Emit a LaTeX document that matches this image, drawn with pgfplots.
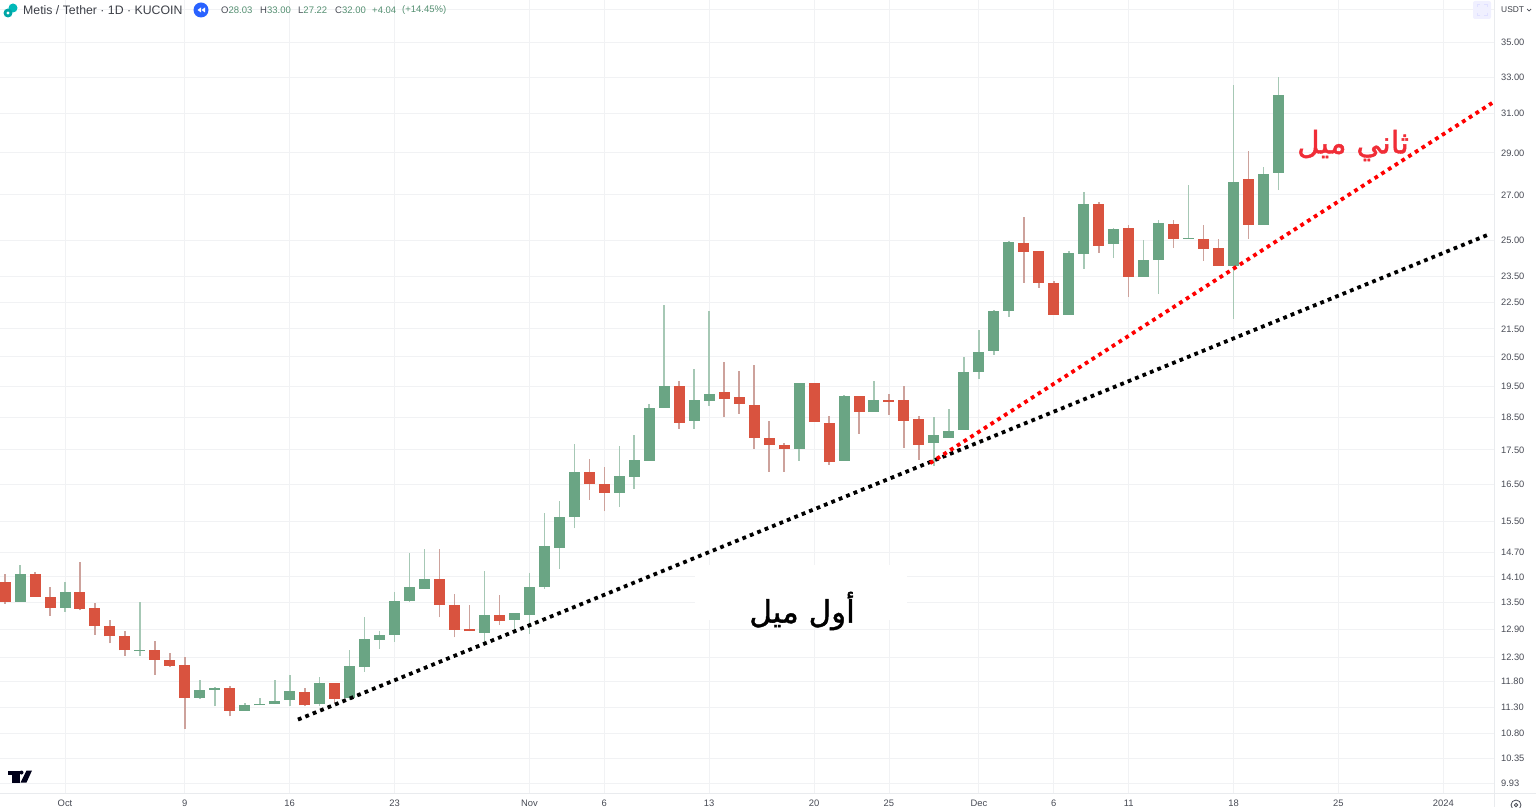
\documentclass[border=0pt]{standalone}
\usepackage{fontspec}
\usepackage{pgfplots}
\usepackage{pgfplotstable}
\pgfplotsset{compat=1.18}
\setmainfont{Liberation Sans}
\newfontfamily\arabicfont[Script=Arabic,AutoFakeBold=1.4]{DejaVu Sans}
\TeXXeTstate=1
\definecolor{upc}{HTML}{6AA584}
\definecolor{dnc}{HTML}{D9533F}
\definecolor{upw}{HTML}{A6C8B5}
\definecolor{dnw}{HTML}{CDA29C}
\definecolor{gridc}{HTML}{F1F2F4}
\definecolor{axc}{HTML}{E9EBEE}
\definecolor{txt}{HTML}{474A54}
\definecolor{valc}{HTML}{548F71}
\definecolor{tvblue}{HTML}{2962FF}
\definecolor{redlabel}{HTML}{F02D37}
% day (0 = 1 Oct), low, body bottom, body top, high
\pgfplotstableread{
d lo bot top hi
-3 13.51 13.51 14.17 14.39
0 13.29 13.38 13.75 13.98
5 12.33 12.44 12.46 13.51
9 11.46 11.48 11.64 11.84
10 11.31 11.64 11.68 11.70
12 11.23 11.23 11.33 11.38
13 11.33 11.33 11.36 11.48
14 11.35 11.35 11.42 11.84
15 11.31 11.44 11.62 11.94
17 11.31 11.36 11.78 11.90
19 11.44 11.48 12.12 12.46
20 12.00 12.10 12.69 13.16
21 12.48 12.67 12.78 12.87
22 12.63 12.78 13.54 13.75
23 13.51 13.54 13.85 14.69
24 13.82 13.82 14.05 14.79
28 12.63 12.82 13.22 14.25
30 12.85 13.11 13.25 13.27
31 12.80 13.22 13.87 14.20
32 13.82 13.87 14.87 15.73
33 14.29 14.82 15.62 16.03
34 15.31 15.62 16.86 17.68
37 15.89 16.27 16.74 17.62
38 16.38 16.72 17.21 17.95
39 17.18 17.18 18.80 18.93
40 18.80 18.80 19.51 22.40
42 18.14 18.39 19.06 20.09
43 18.87 19.03 19.25 22.17
49 17.18 17.53 19.62 19.62
52 17.18 17.18 19.19 19.22
54 18.68 18.68 19.06 19.69
58 17.03 17.71 17.95 18.51
59 17.86 17.86 18.08 18.77
60 18.11 18.11 19.98 20.50
61 19.75 19.98 20.68 21.46
62 20.58 20.72 22.17 22.21
63 21.94 22.17 24.93 24.97
67 22.02 22.02 24.46 24.55
68 23.81 24.42 26.59 27.14
70 24.25 24.84 25.48 25.53
72 23.49 23.49 24.17 25.01
73 22.82 24.17 25.75 25.88
75 25.05 25.05 25.09 27.47
78 21.87 23.93 27.60 32.55
80 25.66 25.66 27.98 28.31
81 27.22 28.03 32.00 33.00
}\upcandles
\pgfplotstableread{
d lo bot top hi
-4 13.47 13.51 13.98 14.17
-2 13.63 13.63 14.17 14.22
-1 13.20 13.38 13.63 13.85
1 13.32 13.36 13.75 14.45
2 12.78 12.98 13.38 13.49
3 12.59 12.74 12.96 13.11
4 12.33 12.44 12.74 12.85
6 11.94 12.25 12.46 12.65
7 12.10 12.12 12.25 12.38
8 10.89 11.48 12.14 12.31
11 11.12 11.23 11.68 11.72
16 11.31 11.33 11.60 11.68
18 11.38 11.46 11.78 11.78
25 13.16 13.45 14.05 14.79
26 12.72 12.89 13.45 13.70
27 12.85 12.85 12.91 13.45
29 13.00 13.09 13.22 13.68
35 16.08 16.52 16.86 17.24
36 15.76 16.27 16.52 17.01
41 18.14 18.33 19.51 19.69
44 18.51 19.09 19.32 20.33
45 18.61 18.93 19.16 20.02
46 17.53 17.86 18.90 20.22
47 16.86 17.65 17.86 18.39
48 16.86 17.53 17.65 17.71
50 18.36 18.36 19.62 19.62
51 17.06 17.15 18.33 18.55
53 17.99 18.68 19.19 19.19
55 18.58 19.00 19.06 19.25
56 17.56 18.39 19.06 19.51
57 17.21 17.65 18.45 18.55
64 23.25 24.51 24.89 26.01
65 23.05 23.25 24.55 24.55
66 22.02 22.02 23.25 23.33
69 24.46 24.76 26.59 26.68
71 22.70 23.49 25.53 25.66
74 24.67 25.05 25.70 25.88
76 24.13 24.63 25.05 25.66
77 23.93 23.93 24.67 25.05
79 25.05 25.66 27.75 29.10
}\downcandles
\newcommand{\wicks}[2]{\addplot[draw=none,no marks,forget plot,
  error bars/.cd,y dir=plus,y explicit,error mark=none,
  error bar style={line width=1.6pt,draw=#2,solid}]
  table[x=d,y=lo,y error plus expr=\thisrow{hi}-\thisrow{lo}]{#1};}
\newcommand{\bodies}[2]{\addplot[draw=none,no marks,forget plot,
  error bars/.cd,y dir=plus,y explicit,error mark=none,
  error bar style={line width=11pt,draw=#2,solid}]
  table[x=d,y=bot,y error plus expr=\thisrow{top}-\thisrow{bot}]{#1};}
\begin{document}
\begin{tikzpicture}[x=1pt,y=1pt]
\useasboundingbox (0,-14) rectangle (1536,793);
\begin{axis}[
  at={(0,0)},anchor=south west,
  scale only axis,width=1494pt,height=793pt,
  ymode=log,
  xmin=-4.339,xmax=95.39,ymin=9.762,ymax=37.62,
  axis line style={draw=none},
  major tick length=0pt,
  tick style={draw=none},
  grid=major,
  grid style={draw=gridc,line width=0.9pt},
  clip=true,
  xtick={0,8,15,22,31,36,43,50,55,61,66,71,78,85,92},
  xticklabels={Oct,9,16,23,Nov,6,13,20,25,Dec,6,11,18,25,2024},
  xticklabel style={font=\fontsize{9.4}{10}\selectfont,text=txt,anchor=base,yshift=-14pt},
  xtick pos=bottom,
  ytick={9.93,10.35,10.8,11.3,11.8,12.3,12.9,13.5,14.1,14.7,15.5,16.5,17.5,18.5,19.5,20.5,21.5,22.5,23.5,25,27,29,31,33,35,37},
  yticklabels={9.93,10.35,10.80,11.30,11.80,12.30,12.90,13.50,14.10,14.70,15.50,16.50,17.50,18.50,19.50,20.50,21.50,22.50,23.50,25.00,27.00,29.00,31.00,33.00,35.00,},
  ytick pos=right,
  yticklabel pos=right,
  yticklabel style={font=\fontsize{9.3}{10}\selectfont,text=txt,anchor=west,xshift=3.5pt},
]
\wicks{\upcandles}{upw}
\wicks{\downcandles}{dnw}
\bodies{\upcandles}{upc}
\bodies{\downcandles}{dnc}
\addplot[forget plot,black,line width=3.8pt,dash pattern=on 3.8pt off 4.2pt]
  coordinates {(15.55,11.06) (95.13,25.27)};
\addplot[forget plot,red,line width=3.8pt,dash pattern=on 3.8pt off 4.2pt]
  coordinates {(57.74,17.11) (95.26,31.57)};
\end{axis}
% price and time scale borders
\draw[axc,line width=1pt] (1494.5,-14) -- (1494.5,793);
\draw[axc,line width=1pt] (0,0) -- (1536,0);
% white patch behind first label
\fill[white] (695,173) rectangle (907,228);
\node[inner sep=0,font=\arabicfont\bfseries\fontsize{31}{34}\selectfont] at (802,182) {\beginR أول ميل\endR};
\node[inner sep=0,text=redlabel,font=\arabicfont\bfseries\fontsize{31}{34}\selectfont] at (1353,647.5) {\beginR ثاني ميل\endR};
% header
\fill[teal!55!cyan] (13,785) circle (4.5);
\fill[teal!70!cyan] (8,780) circle (4.5);
\fill[white] (8,780) circle (1.7);
\node[anchor=west,inner sep=0,text=txt!85!black,font=\fontsize{12.3}{14}\selectfont] at (23,783) {Metis / Tether · 1D · KUCOIN};
\fill[tvblue] (201,783) circle (7.5);
\fill[white] (201,785.5) -- (201,780.5) -- (197.5,783) -- cycle;
\fill[white] (205,785.5) -- (205,780.5) -- (201.5,783) -- cycle;
\begin{scope}[every node/.style={anchor=west,inner sep=0,font=\fontsize{9.5}{11}\selectfont}]
\node[text=valc] at (221,783) {\textcolor{txt}{O}28.03};
\node[text=valc] at (260,783) {\textcolor{txt}{H}33.00};
\node[text=valc] at (298,783) {\textcolor{txt}{L}27.22};
\node[text=valc] at (335,783) {\textcolor{txt}{C}32.00};
\node[text=valc] at (372,783) {+4.04};
\node[text=valc] at (402,783) {(+14.45\%)};
\end{scope}
% top right buttons
\fill[blue!6,rounded corners=2pt] (1473,774) rectangle (1491,792);
\draw[blue!12,line width=.7pt] (1477,786) -- (1477,788.5) -- (1480,788.5) (1484,788.5) -- (1487,788.5) -- (1487,786) (1487,780) -- (1487,777.5) -- (1484,777.5) (1480,777.5) -- (1477,777.5) -- (1477,780);
\node[anchor=west,inner sep=0,text=txt!85!black,font=\fontsize{8.4}{10}\selectfont] at (1501,783) {USDT};
\draw[txt,line width=.7pt] (1527,784) -- (1529,782) -- (1531,784);
% TradingView logo
\fill[black!90!blue] (7.5,22.5) rectangle (19.5,18.5);
\fill[black!90!blue] (12,18.5) rectangle (19.5,10.5);
\fill[black!90!blue] (21.5,20.5) circle (2);
\fill[black!90!blue] (26.5,22.5) -- (32,22.5) -- (26.5,10.5) -- (20.5,10.5) -- cycle;
% settings icon
\draw[txt,line width=.8pt] (1516,-12) circle (5);
\draw[txt,line width=.8pt] (1516,-12) circle (1.7);
\end{tikzpicture}
\end{document}
